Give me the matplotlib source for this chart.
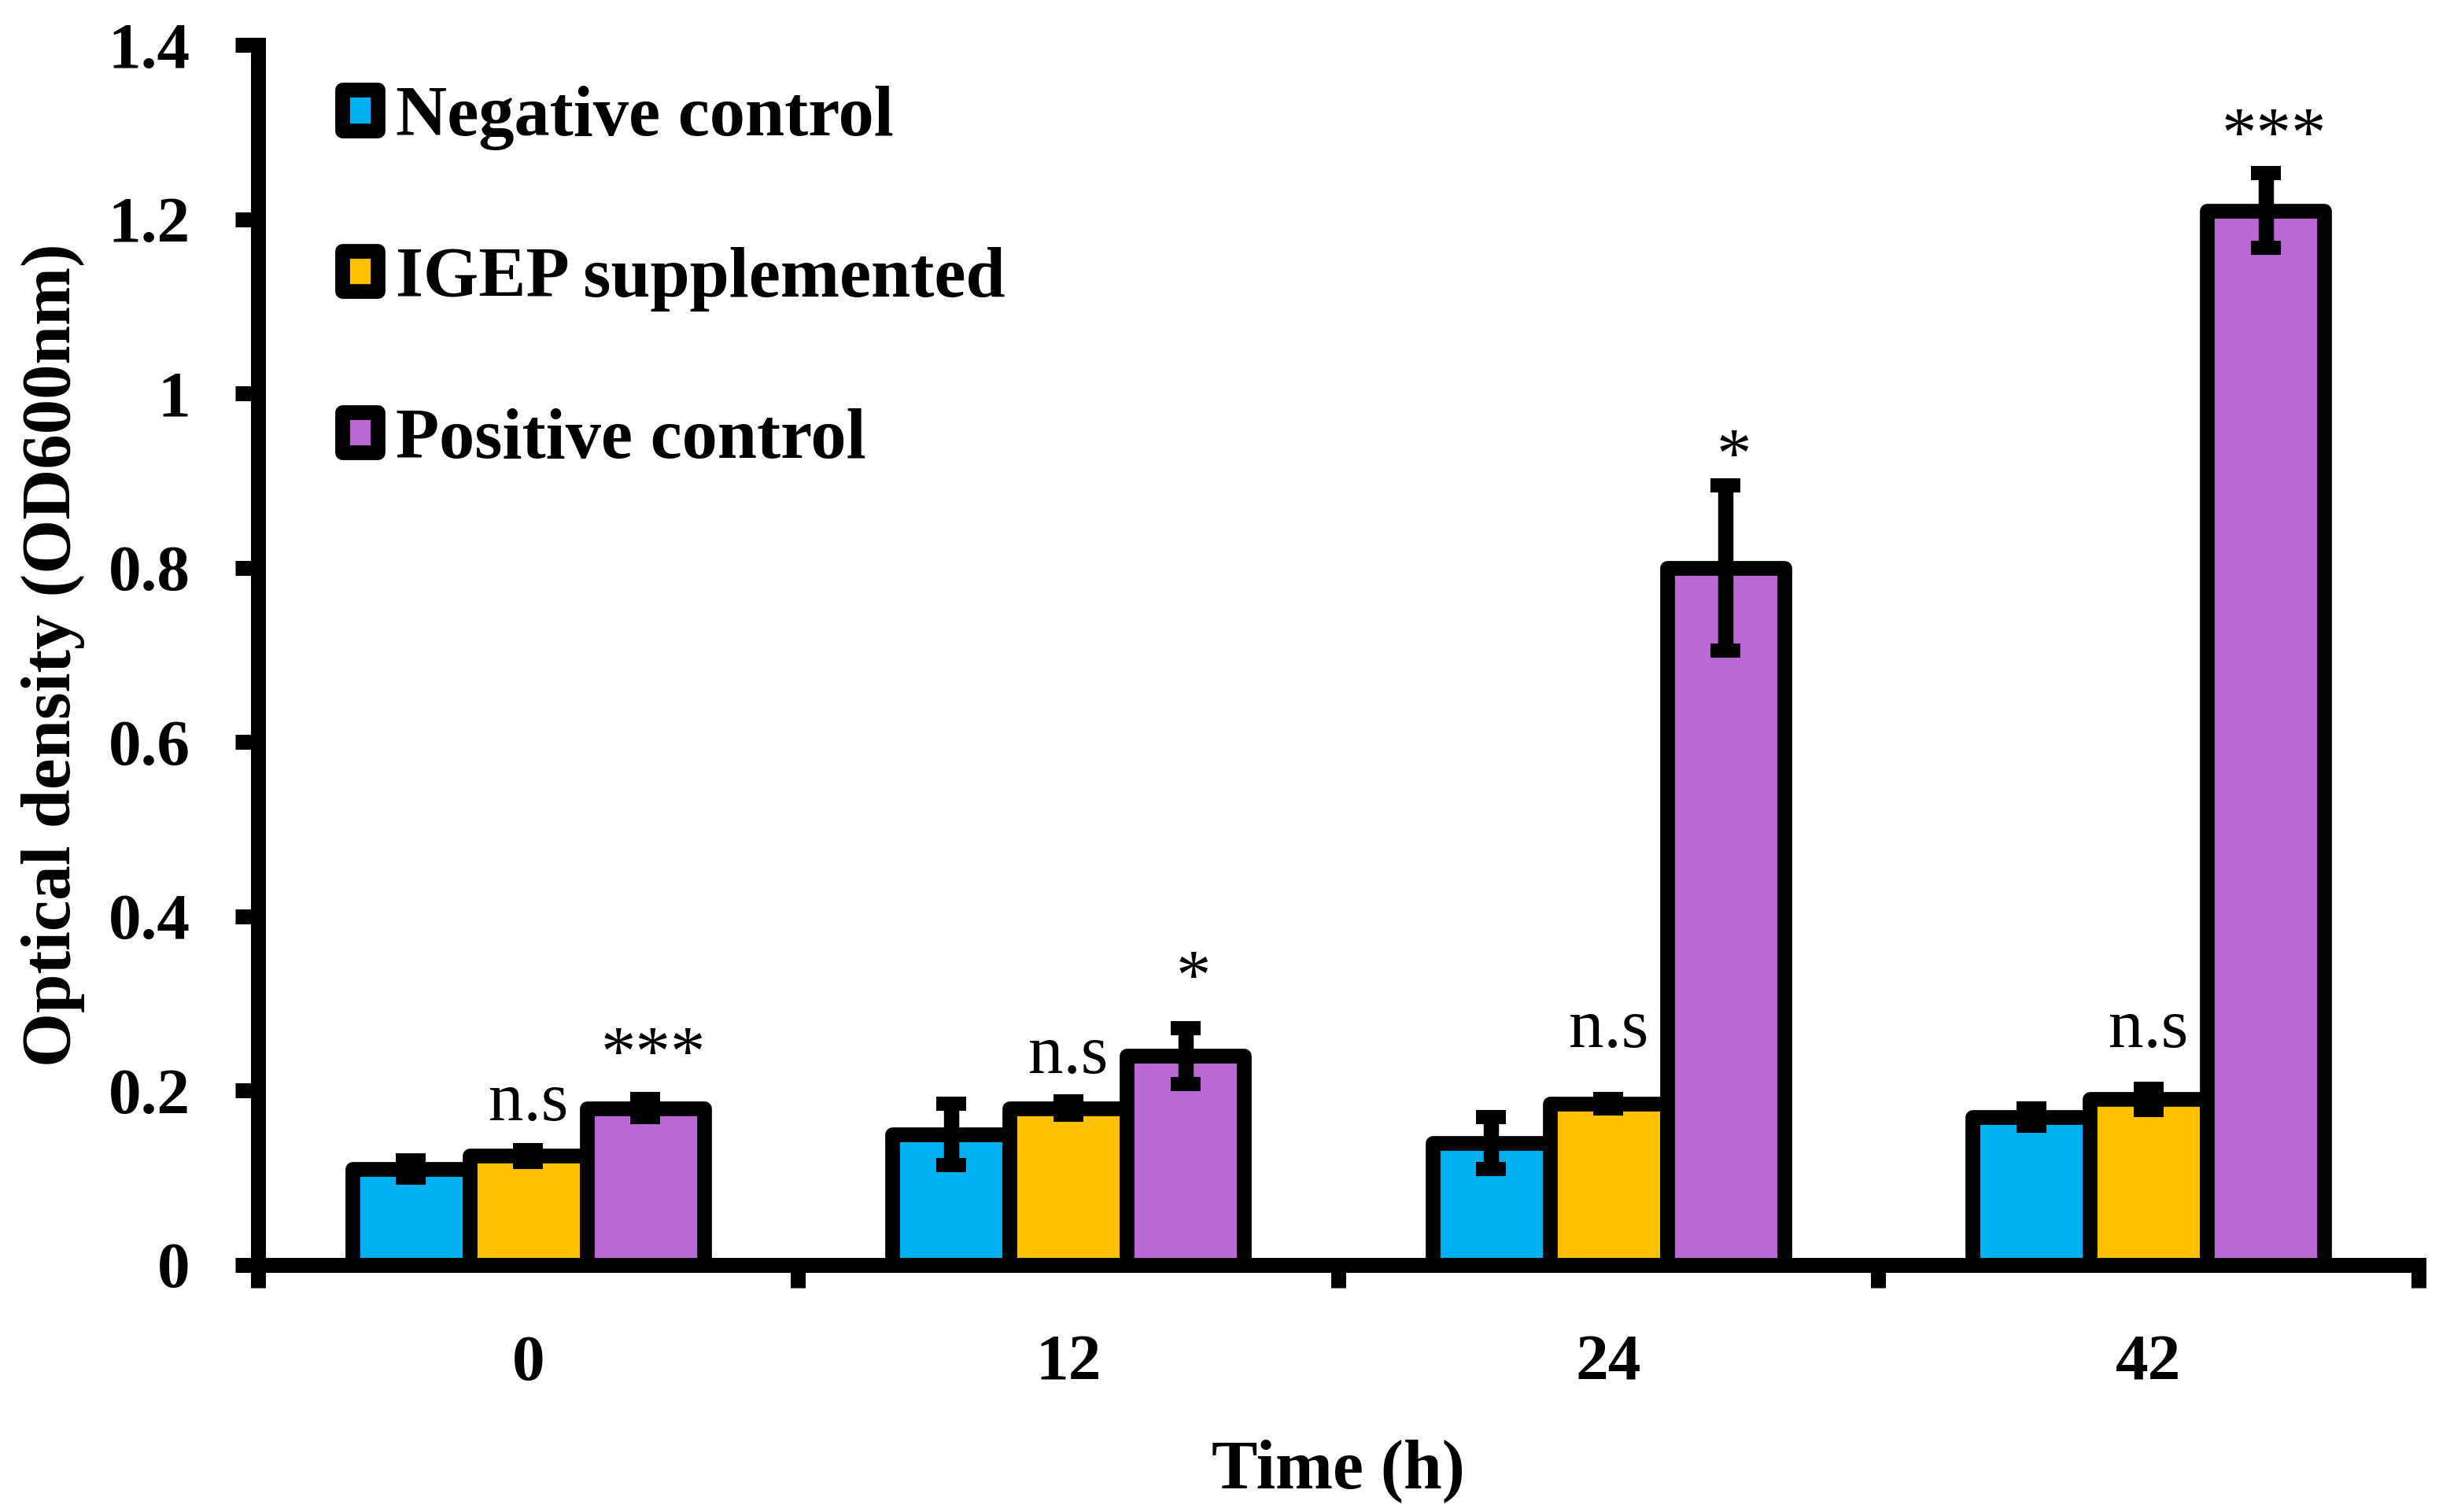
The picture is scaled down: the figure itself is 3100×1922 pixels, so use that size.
import numpy as np
import matplotlib.pyplot as plt

# data
times = ['0', '12', '24', '42']
series = ['Negative control', 'IGEP supplemented', 'Positive control']
neg_ctrl = [0.11, 0.15, 0.14, 0.17]
neg_err = [0.010, 0.035, 0.030, 0.010]
igep = [0.125, 0.18, 0.185, 0.19]
igep_err = [0.007, 0.008, 0.005, 0.012]
pos_ctrl = [0.18, 0.24, 0.80, 1.21]
pos_err = [0.010, 0.032, 0.095, 0.043]

# significance labels (baseline heights, data units)
ns_labels = ['n.s', 'n.s', 'n.s', 'n.s']
ns_y = [0.166, 0.220, 0.250, 0.250]
star_labels = ['***', '*', '*', '***']
star_y = [0.219, 0.307, 0.905, 1.274]

colors = ['#00B0F0', '#FFC000', '#BA68D6']

plt.rcParams['font.family'] = ['Liberation Serif', 'DejaVu Serif']

fig = plt.figure(figsize=(31, 19.22), dpi=100)
ax = fig.add_axes([0.1058, 0.1634, 0.8858, 0.8069])

x = np.arange(len(times))
w = 0.217
lw = 13.5
vals = [neg_ctrl, igep, pos_ctrl]
errs = [neg_err, igep_err, pos_err]
for i in range(3):
    bars = ax.bar(x + (i - 1) * w, vals[i], w, color=colors[i], edgecolor='black',
                  linewidth=lw, label=series[i], zorder=2)
    for b in bars:
        b.set_joinstyle('round')
    ax.errorbar(x + (i - 1) * w, vals[i], yerr=errs[i], fmt='none', ecolor='black',
                elinewidth=14, capsize=14, capthick=13, zorder=3)

for i in range(len(times)):
    ax.text(x[i], ns_y[i], ns_labels[i], ha='center', va='baseline', fontsize=64)
    ax.text(x[i] + w + 0.015, star_y[i], star_labels[i], ha='center', va='baseline',
            fontsize=64)

ax.set_xlim(-0.5, 3.5)
ax.set_ylim(0, 1.4)
ax.set_yticks([0, 0.2, 0.4, 0.6, 0.8, 1, 1.2, 1.4])
ax.set_yticklabels(['0', '0.2', '0.4', '0.6', '0.8', '1', '1.2', '1.4'])
ax.set_xticks(x)
ax.set_xticklabels(times)
ax.set_xticks(np.arange(-0.5, 4, 1), minor=True)
ax.tick_params(axis='x', which='major', length=0, pad=64)
ax.tick_params(axis='x', which='minor', length=21, width=13.7, direction='out')
ax.tick_params(axis='y', length=21, width=13.7, pad=41)
for lab in ax.get_xticklabels() + ax.get_yticklabels():
    lab.set_fontsize(60)
    lab.set_fontweight('bold')

for s in ['top', 'right']:
    ax.spines[s].set_visible(False)
for s in ['left', 'bottom']:
    ax.spines[s].set_linewidth(13.7)
    ax.spines[s].set_zorder(4)

ax.set_xlabel('Time (h)', fontsize=63, fontweight='bold')
ax.set_ylabel('Optical density (OD600nm)', fontsize=64, fontweight='bold')
ax.xaxis.set_label_coords(0.5, -0.1425)
ax.yaxis.set_label_coords(-0.080, 0.5)

leg = ax.legend(loc='upper left', bbox_to_anchor=(0.039, 0.9665), frameon=False,
                prop={'size': 65, 'weight': 'bold'}, labelspacing=1.36,
                borderpad=0, borderaxespad=0,
                handlelength=0.5, handleheight=0.5, handletextpad=0.25)
for h in leg.legend_handles:
    h.set_linewidth(lw)
    h.set_joinstyle('round')

fig.savefig('out.png', dpi=100)
